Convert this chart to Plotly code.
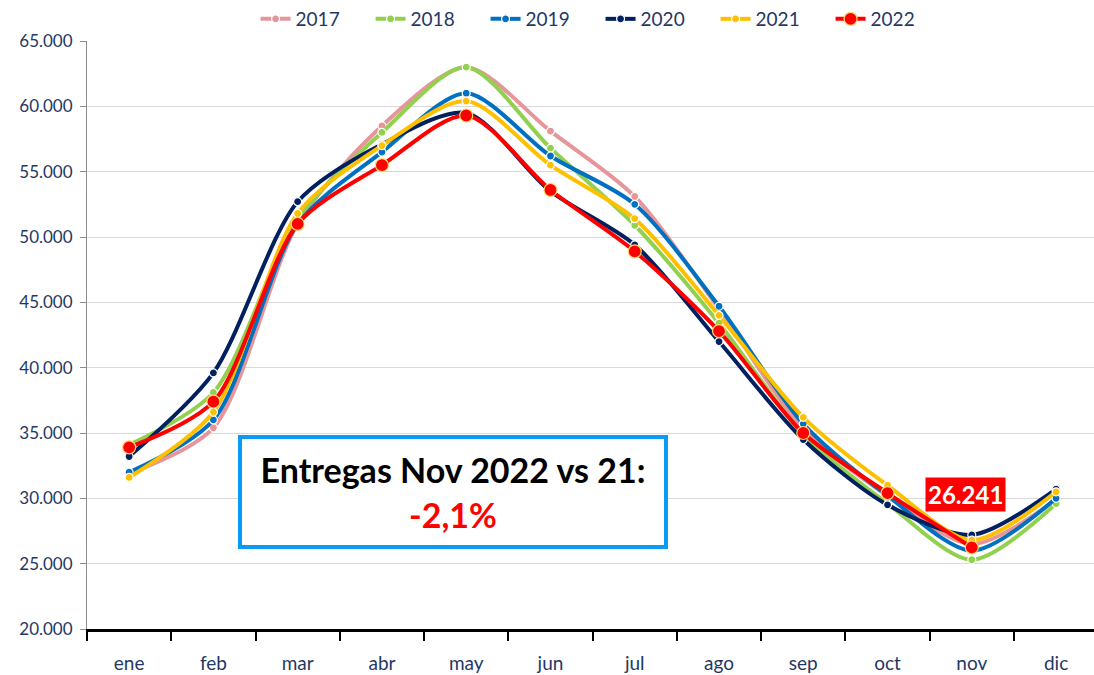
import plotly.graph_objects as go

months = ["ene", "feb", "mar", "abr", "may", "jun", "jul", "ago", "sep", "oct", "nov", "dic"]

y2017 = [31900, 35400, 51000, 58500, 63000, 58100, 53100, 44500, 35300, 30200, 26500, 29900]
y2018 = [34100, 38100, 51400, 58000, 63000, 56800, 50900, 43400, 34900, 29600, 25300, 29600]
y2019 = [32000, 36000, 51000, 56500, 61000, 56200, 52500, 44700, 35700, 30200, 26000, 30000]
y2020 = [33200, 39600, 52700, 57100, 59500, 53500, 49400, 42000, 34500, 29500, 27200, 30700]
y2021 = [31600, 36600, 51800, 57000, 60400, 55500, 51400, 44000, 36200, 31000, 26800, 30500]
y2022 = [33900, 37400, 51000, 55500, 59300, 53600, 48900, 42800, 35000, 30400, 26241, None]

series = [
    ("2017", y2017, "#E6959A"),
    ("2018", y2018, "#92D050"),
    ("2019", y2019, "#0070C0"),
    ("2020", y2020, "#002060"),
    ("2021", y2021, "#FFC000"),
    ("2022", y2022, "#FF0000"),
]

label_text = "26.241"
box_line1 = "Entregas Nov 2022 vs 21:"
box_line2 = "-2,1%"

FONT = "Lato"
NAVY = "#1F3864"

fig = go.Figure()
for name, vals, col in series:
    big = name == "2022"
    fig.add_trace(go.Scatter(
        x=months, y=vals, name=name, mode="lines+markers",
        line=dict(color=col, width=4, shape="spline", smoothing=0.8),
        marker=dict(
            size=13 if big else 8, color=col,
            line=dict(color="#FFD966" if big else "white", width=1.2),
        ),
        connectgaps=False,
    ))

fig.add_annotation(
    x="nov", y=26241, xref="x", yref="y", text="<b>" + label_text + "</b>",
    showarrow=False, yshift=53, xshift=-6,
    font=dict(family=FONT, size=24, color="white"),
    bgcolor="#FF0000", borderpad=2,
)

fig.add_annotation(
    xref="paper", yref="paper", x=0.3635, y=0.233, xanchor="center", yanchor="middle",
    text="<b>" + box_line1 + "</b><br><b><span style='color:#FF0000'>" + box_line2 + "</span></b>",
    showarrow=False, width=420, height=104,
    font=dict(family=FONT, size=34, color="black"),
    bordercolor="#0A9BF5", borderwidth=4, bgcolor="white", align="center",
)

fig.update_layout(
    width=1094, height=675,
    margin=dict(l=87, r=0, t=41, b=46, autoexpand=False),
    paper_bgcolor="white", plot_bgcolor="white",
    separators=",.",
    font=dict(family=FONT, color=NAVY),
    showlegend=True,
    legend=dict(
        orientation="h", x=0.51, xanchor="center",
        yref="container", y=1.0, yanchor="top",
        font=dict(family=FONT, size=19, color=NAVY),
        itemwidth=30, traceorder="normal", tracegroupgap=0,
        entrywidth=70, entrywidthmode="pixels",
    ),
    xaxis=dict(
        type="category", range=[-0.5, 11.45], automargin=False,
        tickson="boundaries", ticks="outside", ticklen=9, tickwidth=2, tickcolor="black",
        showline=True, linecolor="black", linewidth=3,
        showgrid=False, zeroline=False,
        tickfont=dict(family=FONT, size=19, color=NAVY),
        ticklabelstandoff=15,
    ),
    yaxis=dict(
        range=[20000, 65000], dtick=5000, tickformat=",d", automargin=False,
        showgrid=True, gridcolor="#D9D9D9", gridwidth=1,
        ticks="outside", ticklen=6, tickcolor="#8C8C8C",
        showline=True, linecolor="#8C8C8C", linewidth=1,
        zeroline=False,
        tickfont=dict(family=FONT, size=17, color=NAVY),
        ticklabelstandoff=4,
    ),
)

fig.write_html(
    "out.html",
    config={"displayModeBar": False},
    post_script="document.body.style.margin='0';document.body.style.overflow='hidden';",
)
